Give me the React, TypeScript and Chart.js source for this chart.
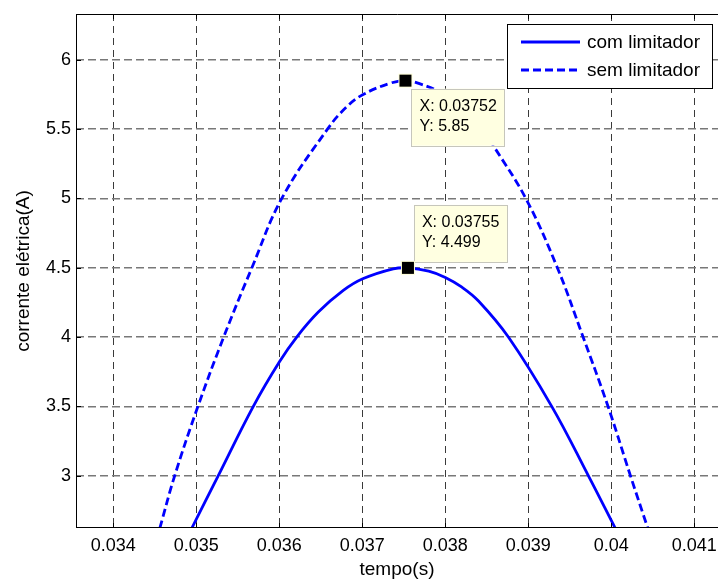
import React, { useEffect, useRef } from 'react';
import { Chart, registerables } from 'chart.js';

Chart.register(...registerables);

// ---- data ----
const seriesLabels = ['com limitador', 'sem limitador'];

const comX = [0.034945, 0.035265, 0.035687, 0.036, 0.03621, 0.03647, 0.036771, 0.037005, 0.037373, 0.03755, 0.0378, 0.038, 0.0382, 0.0384, 0.03876, 0.039282, 0.039723, 0.040048];
const comY = [2.62, 3.0, 3.5, 3.82, 4.0, 4.18, 4.336, 4.42, 4.492, 4.499, 4.475, 4.43, 4.36, 4.26, 4.0, 3.5, 3.0, 2.62];

const semX = [0.03456, 0.03474, 0.03502, 0.03533, 0.03567, 0.03603, 0.03658, 0.03681, 0.03701, 0.03733, 0.03752, 0.03768, 0.038, 0.03825, 0.03845, 0.03858, 0.03897, 0.03935, 0.03966, 0.03996, 0.04023, 0.04044];
const semY = [2.62, 3.0, 3.5, 4.0, 4.5, 5.0, 5.5, 5.66, 5.75, 5.83, 5.85, 5.83, 5.75, 5.64, 5.5, 5.38, 5.0, 4.5, 4.0, 3.5, 3.0, 2.62];

const xTicks = [0.034, 0.035, 0.036, 0.037, 0.038, 0.039, 0.04, 0.041];
const xTickLabels = ['0.034', '0.035', '0.036', '0.037', '0.038', '0.039', '0.04', '0.041'];
const yTicks = [3, 3.5, 4, 4.5, 5, 5.5, 6];
const yTickLabels = ['3', '3.5', '4', '4.5', '5', '5.5', '6'];

const tipX = [0.03752, 0.03755];
const tipY = [5.85, 4.499];
const tipXText = ['0.03752', '0.03755'];
const tipYText = ['5.85', '4.499'];

const X_MIN = 0.0335506;
const X_MAX = 0.0412855;
const Y_MIN = 2.622;
const Y_MAX = 6.331;

const FONT = '"Liberation Sans", Arial, Helvetica, sans-serif';
const BLUE = '#0000ff';

const overlayPlugin = {
  id: 'matlabOverlay',
  afterDraw(chart: any) {
    const { ctx, chartArea, scales } = chart;
    const { left, top, right, bottom } = chartArea;
    const xs = scales.x;
    const ys = scales.y;
    ctx.save();
    ctx.setLineDash([]);
    // axes box lines
    ctx.strokeStyle = '#000';
    ctx.lineWidth = 1;
    ctx.beginPath();
    ctx.moveTo(left + 0.5, top + 0.5);
    ctx.lineTo(right, top + 0.5);
    ctx.moveTo(left + 0.5, top);
    ctx.lineTo(left + 0.5, bottom);
    ctx.moveTo(left, bottom - 0.5);
    ctx.lineTo(right, bottom - 0.5);
    // inward tick marks
    xTicks.forEach((v) => {
      const px = Math.round(xs.getPixelForValue(v)) + 0.5;
      ctx.moveTo(px, bottom);
      ctx.lineTo(px, bottom - 5);
      ctx.moveTo(px, top);
      ctx.lineTo(px, top + 5);
    });
    yTicks.forEach((v) => {
      const py = Math.round(ys.getPixelForValue(v)) + 0.5;
      ctx.moveTo(left, py);
      ctx.lineTo(left + 5, py);
    });
    ctx.stroke();

    // data tips
    tipX.forEach((tx, i) => {
      const mx = xs.getPixelForValue(tx);
      const my = ys.getPixelForValue(tipY[i]);
      const bw = 93;
      const bh = 57;
      const bx = mx + 6;
      const by = i === 0 ? my + 8 : my - 63;
      ctx.fillStyle = '#ffffe1';
      ctx.fillRect(bx, by, bw, bh);
      ctx.strokeStyle = '#c6c6bc';
      ctx.lineWidth = 1;
      ctx.strokeRect(Math.round(bx) + 0.5, Math.round(by) + 0.5, bw, bh);
      ctx.fillStyle = '#000';
      ctx.font = `16px ${FONT}`;
      ctx.textAlign = 'left';
      ctx.textBaseline = 'middle';
      ctx.fillText(`X: ${tipXText[i]}`, bx + 8, by + 17.5);
      ctx.fillText(`Y: ${tipYText[i]}`, bx + 8, by + 37.5);
      // marker
      ctx.fillStyle = '#ffffd8';
      ctx.fillRect(mx - 7, my - 7, 14, 14);
      ctx.fillStyle = '#000';
      ctx.fillRect(mx - 6, my - 6, 12, 12);
    });

    // legend
    const lx0 = 507.5;
    const ly0 = 24.5;
    const lx1 = 712.5;
    const ly1 = 88.5;
    ctx.fillStyle = '#fff';
    ctx.fillRect(lx0, ly0, lx1 - lx0, ly1 - ly0);
    ctx.strokeStyle = '#000';
    ctx.lineWidth = 1;
    ctx.strokeRect(lx0, ly0, lx1 - lx0, ly1 - ly0);
    const rows = [42, 70];
    chart.data.datasets.forEach((ds: any, i: number) => {
      const ry = rows[i];
      ctx.strokeStyle = ds.borderColor;
      ctx.lineWidth = 3;
      ctx.setLineDash(ds.borderDash || []);
      ctx.beginPath();
      ctx.moveTo(521, ry);
      ctx.lineTo(580, ry);
      ctx.stroke();
      ctx.setLineDash([]);
      ctx.fillStyle = '#000';
      ctx.font = `19px ${FONT}`;
      ctx.textAlign = 'left';
      ctx.textBaseline = 'middle';
      ctx.fillText(ds.label, 587, ry + 0.5);
    });
    ctx.restore();
  },
};

export default function App() {
  const canvasRef = useRef<HTMLCanvasElement | null>(null);

  useEffect(() => {
    if (!canvasRef.current) return;
    const comData = comX.map((x, i) => ({ x, y: comY[i] }));
    const semData = semX.map((x, i) => ({ x, y: semY[i] }));
    const chart = new Chart(canvasRef.current, {
      type: 'line',
      data: {
        datasets: [
          {
            label: seriesLabels[0],
            data: comData,
            borderColor: BLUE,
            borderWidth: 2.8,
            pointRadius: 0,
            tension: 0.4,
            fill: false,
          },
          {
            label: seriesLabels[1],
            data: semData,
            borderColor: BLUE,
            borderWidth: 2.8,
            borderDash: [8, 4],
            pointRadius: 0,
            tension: 0.4,
            fill: false,
          },
        ],
      },
      options: {
        animation: false,
        responsive: true,
        maintainAspectRatio: false,
        events: [],
        layout: { padding: { top: 14, left: 0, right: 0, bottom: 0 } },
        plugins: {
          legend: { display: false },
          tooltip: { enabled: false },
          title: { display: false },
        },
        scales: {
          x: {
            type: 'linear',
            min: X_MIN,
            max: X_MAX,
            afterBuildTicks: (s: any) => {
              s.ticks = xTicks.map((v) => ({ value: v }));
            },
            afterFit: (s: any) => {
              s.height = 51;
              s.paddingLeft = 0;
              s.paddingRight = 0;
            },
            ticks: {
              autoSkip: false,
              maxRotation: 0,
              padding: 7,
              color: '#000',
              font: { family: FONT, size: 18 },
              callback: (_v: any, i: number) => xTickLabels[i],
            },
            grid: {
              color: '#3a3a3a',
              lineWidth: 1,
              drawTicks: false,
            },
            border: { display: false, dash: [7, 5] },
            title: {
              display: true,
              text: 'tempo(s)',
              color: '#000',
              font: { family: FONT, size: 19, lineHeight: 1.0 },
              padding: { top: 0, bottom: 0 },
            },
          },
          y: {
            type: 'linear',
            min: Y_MIN,
            max: Y_MAX,
            afterBuildTicks: (s: any) => {
              s.ticks = yTicks.map((v) => ({ value: v }));
            },
            afterFit: (s: any) => {
              s.width = 76;
              s.paddingTop = 0;
              s.paddingBottom = 0;
            },
            ticks: {
              padding: 5,
              color: '#000',
              font: { family: FONT, size: 18 },
              callback: (_v: any, i: number) => yTickLabels[i],
            },
            grid: {
              color: '#787878',
              lineWidth: 1.5,
              drawTicks: false,
            },
            border: { display: false, dash: [8, 4] },
            title: {
              display: true,
              text: 'corrente elétrica(A)',
              color: '#000',
              font: { family: FONT, size: 19, lineHeight: 1.2 },
              padding: { top: 12, bottom: 0 },
            },
          },
        },
      },
      plugins: [overlayPlugin],
    });
    return () => chart.destroy();
  }, []);

  return (
    <div style={{ position: 'fixed', left: 0, top: 0, width: 718, height: 579, background: '#fff' }}>
      <canvas ref={canvasRef} />
    </div>
  );
}
